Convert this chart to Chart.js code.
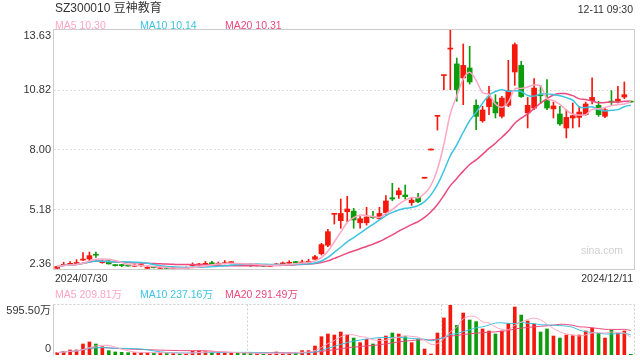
<!DOCTYPE html>
<html><head><meta charset="utf-8">
<script src="https://cdn.jsdelivr.net/npm/chart.js@4/dist/chart.umd.min.js"></script>
<style>
html,body{margin:0;padding:0;background:#fff;}
#wrap{position:relative;width:640px;height:360px;overflow:hidden;font-family:"Liberation Sans",Arial,"Noto Sans CJK SC",sans-serif;}
.t{position:absolute;white-space:nowrap;font-size:10.5px;line-height:10.5px;color:#333;}
canvas{position:absolute;left:0;}
</style></head>
<body><div id="wrap">
<canvas id="pc" width="640" height="275" style="top:0"></canvas>
<canvas id="vc" width="640" height="62" style="top:298px"></canvas>
<div class="t" style="left:55px;top:2px;font-size:12px;line-height:12px;">SZ300010 豆神教育</div>
<div class="t" style="right:7px;top:3.5px;">12-11 09:30</div>
<div class="t" style="left:55px;top:19.5px;color:#ffa6c3">MA5 10.30</div>
<div class="t" style="left:140px;top:19.5px;color:#3cc4e2">MA10 10.14</div>
<div class="t" style="left:225px;top:19.5px;color:#ec4a7d">MA20 10.31</div>
<div class="t" style="right:17px;top:244.5px;color:#cfcfcf">sina.com</div>
<div class="t" style="left:55px;top:273px;">2024/07/30</div>
<div class="t" style="right:7px;top:273px;">2024/12/11</div>
<div class="t" style="left:55px;top:288.5px;color:#ffa6c3">MA5 209.81万</div>
<div class="t" style="left:140px;top:288.5px;color:#3cc4e2">MA10 237.16万</div>
<div class="t" style="left:225px;top:288.5px;color:#ec4a7d">MA20 291.49万</div>
</div>
<script>
const dates = ("07/30 07/31 08/01 08/02 08/05 08/06 08/07 08/08 08/09 08/12 08/13 08/14 08/15 08/16 08/19 08/20 08/21 08/22 08/23 08/26 08/27 08/28 08/29 08/30 " +
 "09/02 09/03 09/04 09/05 09/06 09/09 09/10 09/11 09/12 09/13 09/18 09/19 09/20 09/23 09/24 09/25 09/26 09/27 09/30 " +
 "10/08 10/09 10/10 10/11 10/14 10/15 10/16 10/17 10/18 10/21 10/22 10/23 10/24 10/25 10/28 10/29 10/30 10/31 " +
 "11/01 11/04 11/05 11/06 11/07 11/08 11/11 11/12 11/13 11/14 11/15 11/18 11/19 11/20 11/21 11/22 11/25 11/26 11/27 11/28 11/29 " +
 "12/02 12/03 12/04 12/05 12/06 12/09 12/10 12/11").split(" ");

const openP = [2.39,2.53,2.58,2.62,2.78,2.83,3.04,2.66,2.74,2.55, 2.55,2.53,2.49,2.52,2.39,2.45,2.39,2.41,2.37,2.39,
 2.38,2.52,2.55,2.58,2.63,2.58,2.61,2.66,2.61,2.60, 2.55,2.52,2.52,2.49,2.55,2.60,2.63,2.68,2.63,2.64,
 2.82,3.08,3.48,4.94,4.64,5.06,5.09,4.54,4.54,4.83, 4.73,5.02,5.72,5.86,5.85,5.49,5.74,6.64,7.97,9.56,
 11.48,12.73,12.03,11.37,11.84,10.08,9.35,10.01,10.23,9.56, 10.08,11.65,11.96,9.72,9.95,10.58,10.30,9.91,9.67,9.01,
 9.48,9.51,9.64,10.30,10.08,9.56,10.27,10.27,10.47,10.25];
const highP = [2.49,2.68,2.71,2.80,3.13,3.16,3.16,2.78,2.75,2.56, 2.58,2.55,2.60,2.60,2.50,2.47,2.47,2.43,2.44,2.41,
 2.46,2.65,2.63,2.72,2.72,2.69,2.76,2.70,2.63,2.62, 2.63,2.57,2.53,2.56,2.63,2.69,2.75,2.72,2.78,2.82,
 3.00,3.57,4.23,4.98,5.66,5.79,5.22,4.83,5.27,5.08, 5.27,5.82,6.40,6.18,6.32,5.71,5.93,6.64,7.97,9.56,
 11.48,13.63,12.31,12.97,12.86,10.34,10.03,10.97,10.58,10.50, 12.20,13.02,12.15,10.45,11.34,11.02,11.29,10.23,10.03,9.87,
 10.19,10.03,10.23,11.37,10.27,9.92,10.77,10.97,11.18,10.25];
const lowP = [2.37,2.52,2.57,2.61,2.77,2.75,2.91,2.63,2.59,2.50, 2.47,2.49,2.48,2.47,2.38,2.41,2.38,2.37,2.36,2.36,
 2.37,2.50,2.54,2.57,2.60,2.57,2.60,2.63,2.57,2.55, 2.47,2.50,2.48,2.48,2.54,2.59,2.62,2.63,2.62,2.63,
 2.81,3.02,3.41,4.48,4.28,4.59,4.28,4.28,4.43,4.75, 4.70,4.91,5.58,5.69,5.65,5.36,5.49,6.64,7.97,8.91,
 10.82,10.82,10.27,10.11,11.08,8.93,9.28,9.64,9.48,9.48, 10.01,11.02,10.45,9.01,9.87,10.17,9.87,9.48,9.13,8.54,
 9.01,9.06,9.61,10.14,9.56,9.50,10.08,10.19,10.39,10.23];
const closeP = [2.48,2.56,2.61,2.66,2.83,2.99,3.01,2.69,2.60,2.52, 2.52,2.50,2.52,2.53,2.41,2.42,2.41,2.39,2.39,2.37,
 2.41,2.55,2.58,2.61,2.61,2.61,2.64,2.66,2.58,2.57, 2.53,2.55,2.49,2.52,2.58,2.63,2.66,2.66,2.69,2.72,
 2.94,3.51,4.12,4.94,4.98,5.19,4.67,4.73,4.81,4.78, 4.98,5.57,5.66,6.05,5.77,5.61,5.53,6.64,7.97,9.56,
 11.48,12.75,10.82,11.96,11.18,9.56,9.86,10.39,9.72,10.42, 10.77,12.94,10.49,10.08,10.89,10.53,9.95,10.05,9.20,9.51,
 9.59,9.76,10.14,10.45,9.64,9.87,10.23,10.37,10.58,10.23];
const volume = [28,44,60,60,131,155,131,99,52,36, 32,28,28,28,28,24,24,20,20,16,
 20,44,48,40,36,28,32,24,24,20, 20,16,12,16,36,24,28,24,52,52,
 107,218,250,238,274,238,202,147,187,131, 191,226,262,250,218,147,187,71,12,262,
 441,595.5,353,500,417,397,310,286,250,286, 377,572,476,405,369,274,310,226,202,238,
 230,238,286,322,258,202,298,258,286,8];

const priceTicks = [2.36, 5.18, 8.00, 10.82, 13.63];
const priceTickLabels = ["2.36", "5.18", "8.00", "10.82", "13.63"];
const volTicks = [0, 595.5];
const volTickLabels = ["0", "595.50万"];

const RED = '#f5180c', GREEN = '#0c9c0c';
const C_MA5 = '#ffa6c3', C_MA10 = '#3cc4e2', C_MA20 = '#ec4a7d';

function movingAvg(arr, n) {
  return arr.map((_, i) => {
    const s = arr.slice(Math.max(0, i - n + 1), i + 1);
    return s.reduce((a, b) => a + b, 0) / s.length;
  });
}
const candleColor = closeP.map((c, i) => c >= openP[i] ? RED : GREEN);

function dotted(ctx, x1, y1, x2, y2) {
  ctx.beginPath(); ctx.moveTo(x1, y1); ctx.lineTo(x2, y2); ctx.stroke();
}

const pricePlugin = {
  id: 'priceFrame',
  beforeDatasetsDraw(chart) {
    const {ctx, chartArea: a, scales: {y}} = chart;
    ctx.save();
    ctx.lineWidth = 1;
    ctx.strokeStyle = '#dedede';
    ctx.setLineDash([2, 2]);
    priceTicks.slice(1, -1).forEach(v => {
      const py = Math.round(y.getPixelForValue(v)) + 0.5;
      dotted(ctx, a.left, py, a.right, py);
    });
    ctx.setLineDash([]);
    ctx.strokeStyle = '#cccccc';
    ctx.strokeRect(Math.round(a.left) - 0.5, Math.round(a.top) - 0.5, Math.round(a.width) + 1, Math.round(a.height) + 1);
    ctx.restore();
  },
  afterDraw(chart) {
    const {ctx, chartArea: a, scales: {y}} = chart;
    ctx.save();
    ctx.font = '11px "Liberation Sans", Arial, sans-serif';
    ctx.fillStyle = '#333';
    ctx.textAlign = 'right';
    ctx.textBaseline = 'alphabetic';
    priceTicks.forEach((v, i) => {
      const py = y.getPixelForValue(v);
      let by = py + 3.8;
      if (i === 0) by = py - 2.5;
      if (i === priceTicks.length - 1) by = py + 8.5;
      ctx.fillText(priceTickLabels[i], a.left - 3, by);
    });
    ctx.restore();
  }
};

const volPlugin = {
  id: 'volFrame',
  beforeDatasetsDraw(chart) {
    const {ctx, chartArea: a} = chart;
    ctx.save();
    ctx.lineWidth = 1;
    ctx.strokeStyle = '#cfcfcf';
    ctx.setLineDash([2, 2]);
    const t = Math.round(a.top) - 0.5, b = Math.round(a.bottom) + 0.5;
    const l = Math.round(a.left) - 0.5, r = Math.round(a.right) + 0.5;
    dotted(ctx, l, t, r, t);
    dotted(ctx, r, t, r, b);
    [1, 2].forEach(k => {
      const px = Math.round(a.left + a.width * k / 3) + 0.5;
      dotted(ctx, px, t, px, b);
    });
    ctx.setLineDash([]);
    ctx.strokeStyle = '#cccccc';
    dotted(ctx, l, t, l, b);
    ctx.restore();
  },
  afterDraw(chart) {
    const {ctx, chartArea: a, scales: {y}} = chart;
    ctx.save();
    ctx.font = '11px "Liberation Sans", Arial, "Noto Sans CJK SC", sans-serif';
    ctx.fillStyle = '#333';
    ctx.textAlign = 'right';
    ctx.textBaseline = 'alphabetic';
    volTicks.forEach((v, i) => {
      const py = y.getPixelForValue(v);
      const by = i === 0 ? py - 3.3 : py + 9.3;
      ctx.fillText(volTickLabels[i], a.left - 3, by);
    });
    ctx.restore();
  }
};

const lineDs = (label, data, color, w) => ({
  type: 'line', label, data, borderColor: color, borderWidth: w,
  pointRadius: 0, tension: 0.35, fill: false, order: 0
});

new Chart(document.getElementById('pc'), {
  type: 'bar',
  data: {
    labels: dates,
    datasets: [
      { label: 'wick', data: lowP.map((l, i) => [l, highP[i]]), backgroundColor: candleColor,
        barThickness: 1, grouped: false, minBarLength: 1, order: 2 },
      { label: 'body', data: openP.map((o, i) => [o, closeP[i]]), backgroundColor: candleColor,
        barThickness: 5, grouped: false, minBarLength: 1, order: 1 },
      lineDs('MA5', movingAvg(closeP, 5), C_MA5, 1.5),
      lineDs('MA10', movingAvg(closeP, 10), C_MA10, 1.5),
      lineDs('MA20', movingAvg(closeP, 20), C_MA20, 1.5)
    ]
  },
  options: {
    responsive: false, animation: false,
    layout: { padding: { left: 54, right: 6, top: 30, bottom: 6 } },
    plugins: { legend: { display: false }, tooltip: { enabled: false } },
    scales: {
      x: { type: 'category', display: false, offset: true },
      y: { type: 'linear', display: false, min: priceTicks[0], max: priceTicks[priceTicks.length - 1] }
    }
  },
  plugins: [pricePlugin]
});

new Chart(document.getElementById('vc'), {
  type: 'bar',
  data: {
    labels: dates,
    datasets: [
      { label: 'vol', data: volume, backgroundColor: candleColor, barThickness: 3, grouped: false, order: 1 },
      lineDs('VMA5', movingAvg(volume, 5), C_MA5, 1),
      lineDs('VMA10', movingAvg(volume, 10), C_MA10, 1),
      lineDs('VMA20', movingAvg(volume, 20), C_MA20, 1)
    ]
  },
  options: {
    responsive: false, animation: false,
    layout: { padding: { left: 54, right: 6, top: 7, bottom: 5 } },
    plugins: { legend: { display: false }, tooltip: { enabled: false } },
    scales: {
      x: { type: 'category', display: false, offset: true },
      y: { type: 'linear', display: false, min: volTicks[0], max: volTicks[1] }
    }
  },
  plugins: [volPlugin]
});
</script>
</body></html>
